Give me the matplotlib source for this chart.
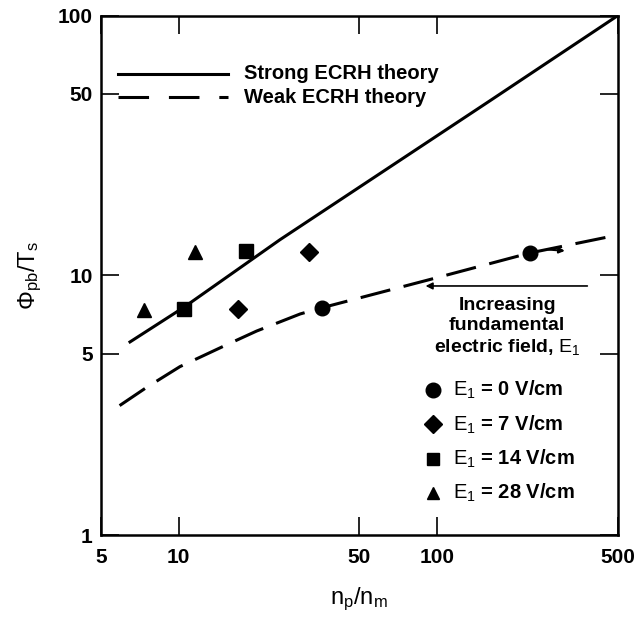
import matplotlib

matplotlib.use("Agg")
import matplotlib.pyplot as plt
from matplotlib.ticker import FixedLocator, FixedFormatter, NullLocator

plt.rcParams["font.family"] = "Liberation Sans"
plt.rcParams["mathtext.fontset"] = "custom"
plt.rcParams["mathtext.rm"] = "Liberation Sans"
plt.rcParams["mathtext.default"] = "rm"

# theory curves
strong_x = [6.4, 10.5, 24.6, 160.0, 500.0]
strong_y = [5.5, 7.55, 13.7, 47.0, 100.0]
weak_x = [5.9, 7.5, 10.1, 15.0, 20.0, 29.5, 35.8, 100.0, 229.0, 500.0]
weak_y = [3.15, 3.7, 4.45, 5.35, 6.1, 7.1, 7.5, 9.8, 12.2, 14.3]

# measured points, one series per fundamental field
e0_x, e0_y = [35.8, 229.0], [7.5, 12.2]
e7_x, e7_y = [16.9, 32.0], [7.4, 12.35]
e14_x, e14_y = [10.5, 18.2], [7.45, 12.4]
e28_x, e28_y = [7.35, 11.6], [7.35, 12.35]

series_labels = ["0", "7", "14", "28"]
x_ticks = [5, 10, 50, 100, 500]
y_ticks = [1, 5, 10, 50, 100]

fig = plt.figure(figsize=(6.37, 6.17), dpi=100)
ax = fig.add_axes([0.1586, 0.1329, 0.8111, 0.8417])
ax.set_xscale("log")
ax.set_yscale("log")
ax.set_xlim(5, 500)
ax.set_ylim(1, 100)

ax.plot(strong_x, strong_y, color="black", lw=2.2, solid_capstyle="butt")
ax.plot(weak_x, weak_y, color="black", lw=2.2, dashes=(10, 4.5))

ms = dict(color="black", linestyle="none", zorder=5)
ax.plot(e0_x, e0_y, marker="o", markersize=10.5, **ms)
ax.plot(e7_x, e7_y, marker="D", markersize=9, **ms)
ax.plot(e14_x, e14_y, marker="s", markersize=10, **ms)
ax.plot(e28_x, e28_y, marker="^", markersize=10, **ms)

# arrows near the right side
ax.annotate("", xy=(88, 9.1), xytext=(391, 9.1),
            arrowprops=dict(arrowstyle="-|>", color="black", lw=1.2,
                            mutation_scale=10))
ax.annotate("", xy=(320, 12.4), xytext=(262, 12.6),
            arrowprops=dict(arrowstyle="-|>", color="black", lw=1.5,
                            mutation_scale=8))

# ticks
for axis, ticks in ((ax.xaxis, x_ticks), (ax.yaxis, y_ticks)):
    axis.set_major_locator(FixedLocator(ticks))
    axis.set_major_formatter(FixedFormatter([str(t) for t in ticks]))
    axis.set_minor_locator(NullLocator())
ax.tick_params(direction="in", length=13, width=1.2, labelsize=15,
               top=True, right=True)
ax.tick_params(axis="x", pad=9)
ax.tick_params(axis="y", pad=6)
for lab in ax.get_xticklabels() + ax.get_yticklabels():
    lab.set_fontweight("bold")
for s in ax.spines.values():
    s.set_linewidth(1.8)

ax.set_xlabel(r"$n_p/n_m$", fontsize=17, labelpad=14)
ax.set_ylabel(r"$\Phi_{pb}/T_s$", fontsize=17, labelpad=10)

# line legend, drawn by hand
tr = ax.transAxes
ax.plot([0.033, 0.246], [0.888, 0.888], transform=tr, color="black", lw=2.2)
ax.plot([0.033, 0.246], [0.843, 0.843], transform=tr, color="black", lw=2.2,
        dashes=(10, 6.5))
ax.text(0.276, 0.888, "Strong ECRH theory", transform=tr, fontsize=14.5,
        fontweight="bold", va="center")
ax.text(0.276, 0.843, "Weak ECRH theory", transform=tr, fontsize=14.5,
        fontweight="bold", va="center")

# field legend
ax.text(0.786, 0.40, "Increasing\nfundamental\nelectric field, $E_1$",
        transform=tr, fontsize=14, fontweight="bold", ha="center",
        va="center", linespacing=1.2)
markers = ["o", "D", "s", "^"]
sizes = [10.5, 9, 9, 9]
for i, (m, lab) in enumerate(zip(markers, series_labels)):
    yy = 0.279 - i * 0.066
    ax.plot([0.643], [yy], transform=tr, marker=m, markersize=sizes[i],
            color="black", clip_on=False)
    ax.text(0.681, yy, "$E_1$ = %s V/cm" % lab, transform=tr, fontsize=14.5,
            fontweight="bold", va="center")

fig.savefig("out.png", dpi=100)
